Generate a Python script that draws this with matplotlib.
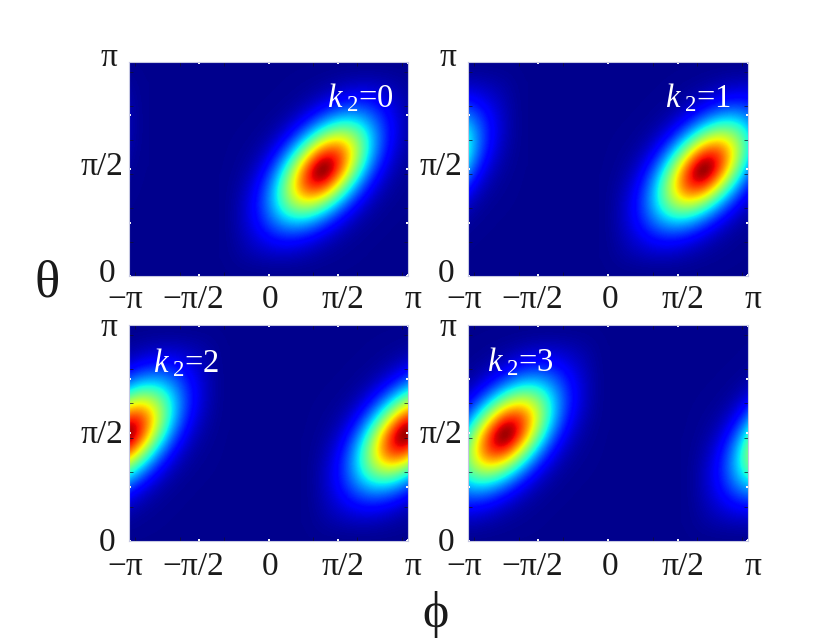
#!/usr/bin/env python3
"""Four k2 panels of the same tilted peak, moved along phi."""
import numpy as np
import matplotlib
matplotlib.use("Agg")
import matplotlib.pyplot as plt
from matplotlib.transforms import ScaledTranslation

plt.rcParams["font.family"] = ["Liberation Serif", "DejaVu Serif"]
plt.rcParams["mathtext.fontset"] = "custom"
plt.rcParams["mathtext.rm"] = "Liberation Serif"
plt.rcParams["mathtext.it"] = "Liberation Serif:italic"

W, H = 836, 641
DPI = 100
PI = np.pi

# peak shape, offsets from the peak in radians
PEAK_DPHI = [-2.16, -1.80, -1.44, -1.08, -0.72, -0.36, 0.0, 0.36, 0.72, 1.08, 1.44, 1.80, 2.16]
PEAK_DTHETA = [1.50, 1.25, 1.00, 0.75, 0.50, 0.25, 0.0, -0.25, -0.50, -0.75, -1.00, -1.25, -1.50]
PEAK = [
    [.015, .015, .015, .015, .015, .015, .015, .015, .015, .015, .015, .015, .015],
    [.015, .015, .015, .015, .016, .019, .026, .040, .055, .058, .048, .033, .015],
    [.015, .015, .015, .016, .021, .037, .072, .120, .149, .136, .091, .048, .015],
    [.015, .015, .016, .022, .045, .107, .214, .316, .333, .249, .136, .058, .015],
    [.015, .016, .021, .045, .123, .290, .503, .620, .540, .333, .149, .055, .015],
    [.015, .019, .037, .107, .290, .589, .880, .890, .620, .316, .120, .040, .015],
    [.015, .026, .072, .214, .503, .870, 1.12, .870, .503, .214, .072, .026, .015],
    [.015, .040, .120, .316, .620, .890, .880, .589, .290, .107, .037, .019, .015],
    [.015, .055, .149, .333, .540, .620, .503, .290, .123, .045, .021, .016, .015],
    [.015, .058, .136, .249, .333, .316, .214, .107, .045, .022, .016, .015, .015],
    [.015, .048, .091, .136, .149, .120, .072, .037, .021, .016, .015, .015, .015],
    [.015, .033, .048, .058, .055, .040, .026, .019, .016, .015, .015, .015, .015],
    [.015, .015, .015, .015, .015, .015, .015, .015, .015, .015, .015, .015, .015],
]

K2 = [0, 1, 2, 3]
PEAK_PHI = [1.23, 2.13, 3.07, -2.31]
PEAK_THETA = [1.56, 1.56, 1.55, 1.55]

XTICKS = [-PI, -PI / 2, 0, PI / 2, PI]
XLABELS = ["\u2212\u03c0", "\u2212\u03c0/2", "0", "\u03c0/2", "\u03c0"]
YTICKS = [0, PI / 4, PI / 2, 3 * PI / 4, PI]
YLABELS = ["0", "", "\u03c0/2", "", "\u03c0"]
X_MINOR = [-3, -2, -1, 1, 2, 3]
Y_MINOR = [0.5, 1.0, 1.5, 2.0, 2.5, 3.0]

# axes boxes in pixels: left, right, top, bottom
BOXES = [(129, 408, 62, 276), (468, 748, 62, 276),
         (129, 408, 325, 541), (468, 748, 325, 541)]
# k2 label: left edge and baseline in pixels
LABEL_AT = [(327, 107), (665, 107), (153, 372), (487, 371)]
# nudges of tick labels in pixels (right, up), top row then bottom row
X_NUDGE = [-4, -6, 2, 5, 5]
X_DROP = [0, 2]
Y_NUDGE = [[(-5, 2), (0, 0), (3, 2), (0, 0), (-3, 4)],
           [(-5, -2), (0, 0), (3, -2), (0, 0), (-3, -3)]]


def nudge(label, fig, dx, dy):
    label.set_transform(label.get_transform()
                        + ScaledTranslation(dx / DPI, dy / DPI, fig.dpi_scale_trans))


def main():
    fig = plt.figure(figsize=(W / DPI, H / DPI), dpi=DPI)
    fig.patch.set_facecolor("white")
    table = np.array(PEAK)
    half_x = (PEAK_DPHI[1] - PEAK_DPHI[0]) / 2
    half_y = (PEAK_DTHETA[0] - PEAK_DTHETA[1]) / 2

    for i, (l, r, t, b) in enumerate(BOXES):
        row = i // 2
        ax = fig.add_axes([l / W, 1 - b / H, (r - l) / W, (b - t) / H])
        ax.set_facecolor(plt.get_cmap("jet")(0.015))
        # peak wraps round in phi, so draw it again one period either side
        for shift in (-2 * PI, 0, 2 * PI):
            x0 = PEAK_PHI[i] + shift
            ax.imshow(table, cmap="jet", vmin=0, vmax=1, aspect="auto",
                      interpolation="bicubic",
                      extent=(x0 + PEAK_DPHI[0] - half_x, x0 + PEAK_DPHI[-1] + half_x,
                              PEAK_THETA[i] + PEAK_DTHETA[-1] - half_y,
                              PEAK_THETA[i] + PEAK_DTHETA[0] + half_y))
        ax.set_xlim(-PI, PI)
        ax.set_ylim(0, PI)

        ax.set_xticks(XTICKS)
        ax.set_xticklabels(XLABELS, fontsize=24, color="#1a1a1a")
        ax.set_yticks(YTICKS)
        ax.set_yticklabels(YLABELS, fontsize=24, color="#1a1a1a")
        ax.set_xticks(X_MINOR, minor=True)
        ax.set_yticks(Y_MINOR, minor=True)
        ax.tick_params(which="major", direction="in", top=True, right=True,
                       length=1.6, width=1.4, color="white", pad=6)
        ax.tick_params(which="minor", direction="in", top=True, right=True,
                       length=2.6, width=0.5, color="#10102a")
        for s in ax.spines.values():
            s.set_color("#c6c8e2")
            s.set_linewidth(0.8)

        for lab, dx in zip(ax.get_xticklabels(), X_NUDGE):
            nudge(lab, fig, dx, -X_DROP[row])
        for lab, (dx, dy) in zip(ax.get_yticklabels(), Y_NUDGE[row]):
            lab.set_verticalalignment("center")
            nudge(lab, fig, dx, dy)
            lab.set_horizontalalignment("right")

        x, y = LABEL_AT[i]
        fig.text(x / W, 1 - y / H, r"$k_{\;2}$=%d" % K2[i], color="white",
                 fontsize=23.5, ha="left", va="baseline")

    fig.text(47 / W, 1 - 284 / H, "\u03b8", fontsize=38, color="#1a1a1a",
             ha="center", va="center")
    fig.text(436 / W, 1 - 614 / H, "\u03d5", fontsize=36, color="#1a1a1a",
             ha="center", va="center")

    fig.savefig("out.png", dpi=DPI, facecolor="white")


if __name__ == "__main__":
    main()
